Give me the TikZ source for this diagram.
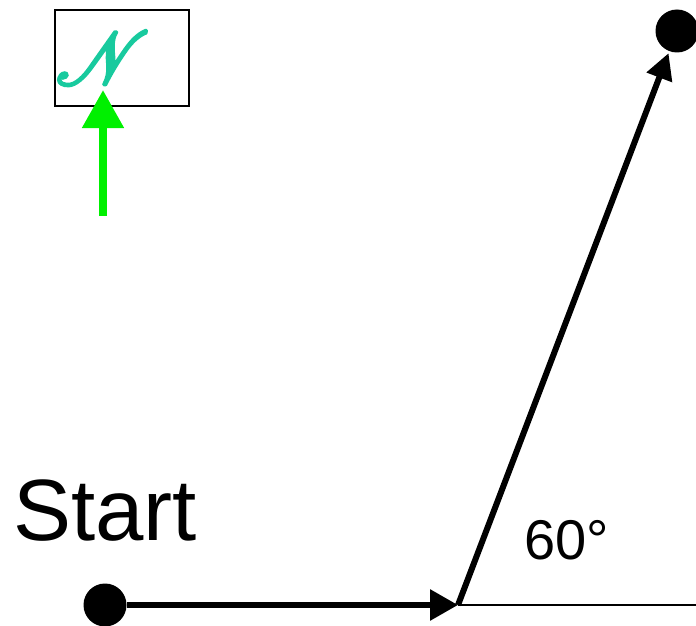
\documentclass[tikz,border=0pt]{standalone}
\usepackage{fontspec}
\setmainfont{Liberation Sans}
\usepackage{mathrsfs}
\usetikzlibrary{arrows.meta}
\definecolor{nteal}{RGB}{24,202,158}
\definecolor{lime}{RGB}{0,240,0}
\begin{document}
\begin{tikzpicture}[x=1pt,y=-1pt,
  dot/.style={circle,fill=black,inner sep=0pt,minimum size=43pt},
  thickarrow/.style={line width=6pt,-{Triangle[length=28pt,width=30pt]}},
  label/.style={inner sep=0pt}]
\useasboundingbox (0,0) rectangle (696,626);
\node[dot] (s) at (105,605) {};
\node[dot] (e) at (677,31) {};
\coordinate (t) at (458,605);
\coordinate (r) at (696,605);
\draw[thickarrow] (s) -- (t);
\draw[line width=2pt] (t) -- (r);
\draw[thickarrow,-{Triangle[length=26pt,width=26pt]},shorten >=2pt] (t) -- (e);
\node[label] (start) at (105,511) {\fontsize{87}{87}\selectfont Start};
\node[label] (ang) at (567,540) {\fontsize{56}{56}\selectfont 60°};
\node[draw,line width=2pt,minimum width=134pt,minimum height=96pt,inner sep=0pt] (box) at (122,58) {};
\node[label,text=nteal] (n) at (103,58) {\resizebox{94pt}{!}{\special{pdf:literal direct 0.4 w 2 Tr}$\mathscr{N}$\special{pdf:literal direct 0 Tr}}};
\coordinate (g) at (103,216);
\coordinate (gt) at (103,90);
\draw[lime,line width=8pt,-{Triangle[length=38pt,width=40pt]}] (g) -- (gt);
\end{tikzpicture}
\end{document}
